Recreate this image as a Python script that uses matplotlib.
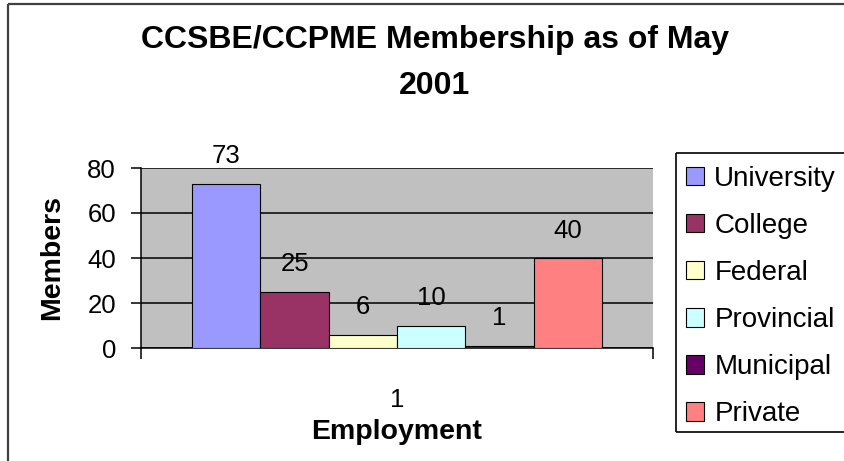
import matplotlib
matplotlib.use('Agg')
import matplotlib.pyplot as plt
from matplotlib.lines import Line2D

# Data
categories = ['University', 'College', 'Federal', 'Provincial', 'Municipal', 'Private']
members = [73, 25, 6, 10, 1, 40]
colors = ['#9999FF', '#993366', '#FFFFCC', '#CCFFFF', '#660066', '#FF8080']
group_labels = ['1']
y_ticks = [0, 20, 40, 60, 80]

plt.rcParams['font.family'] = ['Liberation Sans', 'DejaVu Sans']

W, H = 845, 461
fig = plt.figure(figsize=(W / 100, H / 100), dpi=100)
fig.patch.set_facecolor('white')


def fig_line(x0, y0, x1, y1, color, lw):
    # straight line in pixel coords (y measured from the top)
    fig.add_artist(Line2D([x0 / W, x1 / W], [1 - y0 / H, 1 - y1 / H],
                          transform=fig.transFigure, color=color,
                          linewidth=lw, solid_capstyle='butt'))


# Chart area border, only left and top are visible (image is cropped)
fig_line(8, 4, 8, 461, '#404040', 1.6)
fig_line(8, 4, 845, 4, '#404040', 1.6)

ax = fig.add_axes([141 / W, 1 - 348 / H, (653 - 141) / W, (348 - 168) / H])
ax.set_facecolor('#C0C0C0')

n = len(categories)
width = 0.8 / n
for i, (cat, val, col) in enumerate(zip(categories, members, colors)):
    x = 1 + (i - (n - 1) / 2) * width
    bars = ax.bar(x, val, width, color=col, edgecolor='black', linewidth=0.8,
                  label=cat, zorder=3)
    ax.bar_label(bars, labels=[str(val)], padding=11, fontsize=18.5, color='black')

ax.set_xlim(0.5, 1.5)
ax.set_ylim(0, 80)
ax.set_yticks(y_ticks)
ax.set_yticklabels([str(t) for t in y_ticks], fontsize=18.5)
ax.yaxis.grid(True, color='black', linewidth=1.1, zorder=1)
ax.set_axisbelow(True)
ax.tick_params(axis='y', direction='out', length=7, width=1.1, pad=11)

ax.set_xticks([1])
ax.set_xticklabels(group_labels, fontsize=18.5)
ax.set_xticks([0.5, 1.5], minor=True)
ax.tick_params(axis='x', which='major', length=0, pad=29)
ax.tick_params(axis='x', which='minor', direction='out', length=8, width=1.1)

for s in ['top', 'right']:
    ax.spines[s].set_visible(False)
for s in ['left', 'bottom']:
    ax.spines[s].set_linewidth(1.1)
    ax.spines[s].set_color('black')

ax.set_ylabel('Members', fontsize=20.5, fontweight='bold', labelpad=16)
ax.set_xlabel('Employment', fontsize=20.5, fontweight='bold', labelpad=5)

fig.text(435 / W, 1 - 63 / H, 'CCSBE/CCPME Membership as of May\n2001',
         ha='center', va='center', multialignment='center',
         fontsize=23, fontweight='bold', linespacing=1.66)

# legend box runs past the right edge, as in the original
fig_line(676, 153, 845, 153, 'black', 1.2)
fig_line(676, 153, 676, 432, 'black', 1.2)
fig_line(676, 432, 845, 432, 'black', 1.2)
leg = fig.legend(loc='upper left', bbox_to_anchor=(676 / W, 1 - 156 / H),
                 fontsize=20, frameon=False, borderaxespad=0,
                 handlelength=0.65, handleheight=0.65,
                 handletextpad=0.38, labelspacing=0.76, borderpad=0.35)
for p in leg.get_patches():
    p.set_edgecolor('black')
    p.set_linewidth(0.8)

fig.savefig('out.png', dpi=100, facecolor='white')
